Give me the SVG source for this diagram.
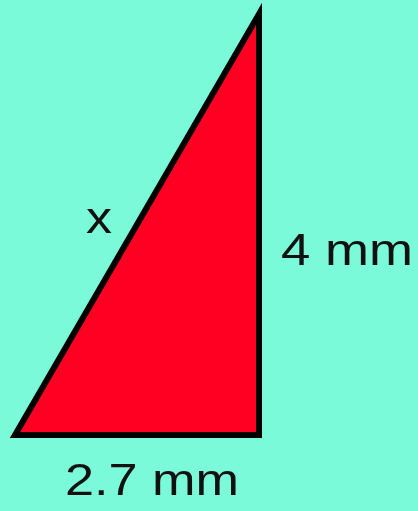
<svg xmlns="http://www.w3.org/2000/svg" width="418" height="511" viewBox="0 0 418 511">
<style>
.lbl{font-family:"Liberation Sans",Arial,sans-serif;font-size:45px;fill:#111}
</style>
<rect width="418" height="511" fill="#7AFAD8"/>
<g id="triangle">
<polygon points="259,14 15,435 259,435" fill="#FF0022" stroke="#000" stroke-width="6" stroke-linejoin="miter"/>
</g>
<g id="labels">
<text class="lbl" x="86" y="233" textLength="26" lengthAdjust="spacingAndGlyphs">x</text>
<text class="lbl" x="281" y="265" textLength="132" lengthAdjust="spacingAndGlyphs">4 mm</text>
<text class="lbl" x="65" y="495" textLength="174" lengthAdjust="spacingAndGlyphs">2.7 mm</text>
</g>
</svg>
